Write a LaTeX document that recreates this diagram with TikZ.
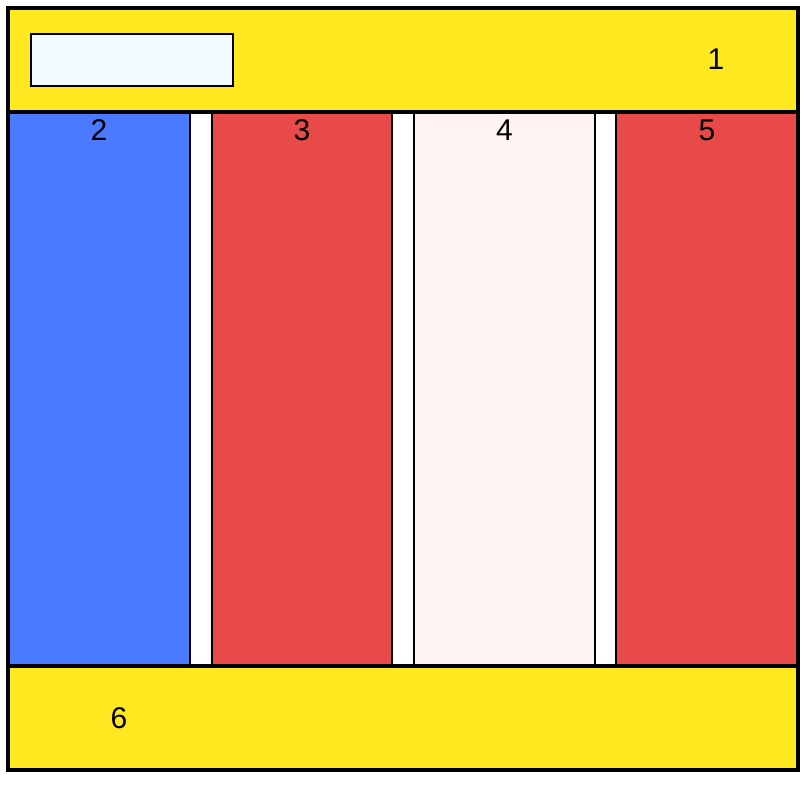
\documentclass[tikz,border=0pt]{standalone}
\usepackage{fontspec}
\setmainfont{Liberation Sans}
\usetikzlibrary{positioning}
\definecolor{barYellow}{HTML}{FFE81F}
\definecolor{colBlue}{HTML}{4A7BFF}
\definecolor{colRed}{HTML}{E84A4A}
\definecolor{colPink}{HTML}{FFF3F2}
\definecolor{boxWhite}{HTML}{F2FBFF}

\begin{document}
\begin{tikzpicture}[x=1pt, y=-1pt, every node/.style={inner sep=0pt, outer sep=0pt},
  panel/.style={draw, line width=2pt, anchor=north west},
  column/.style={panel, minimum width=180, minimum height=554},
  bar/.style={draw, line width=4pt, fill=barYellow, anchor=north west, minimum width=790, minimum height=104},
  num/.style={font=\fontsize{30}{30}\selectfont}]
\useasboundingbox (0,0) rectangle (807,786);
% columns
\node[column, fill=colBlue, minimum width=182] (c2) at (8,112) {};
\node[column, fill=colRed] (c3) at (212,112) {};
\node[column, fill=colPink, minimum width=181] (c4) at (414,112) {};
\node[column, fill=colRed, minimum width=182] (c5) at (616,112) {};
% header and footer
\node[bar] (hdr) at (8,8) {};
\node[bar] (ftr) at (8,666) {};
\node[panel, fill=boxWhite, minimum width=202, minimum height=52] (srch) at (31,34) {};
\draw[line width=4pt] (8,8) rectangle (798,770);
% labels
\node[num] (n1) at (716,59) {1};
\node[num, below=8pt of c2.north] (n2) {2};
\node[num, below=8pt of c3.north] (n3) {3};
\node[num, below=8pt of c4.north] (n4) {4};
\node[num, below=8pt of c5.north] (n5) {5};
\node[num] (n6) at (119,718) {6};
\end{tikzpicture}
\end{document}
